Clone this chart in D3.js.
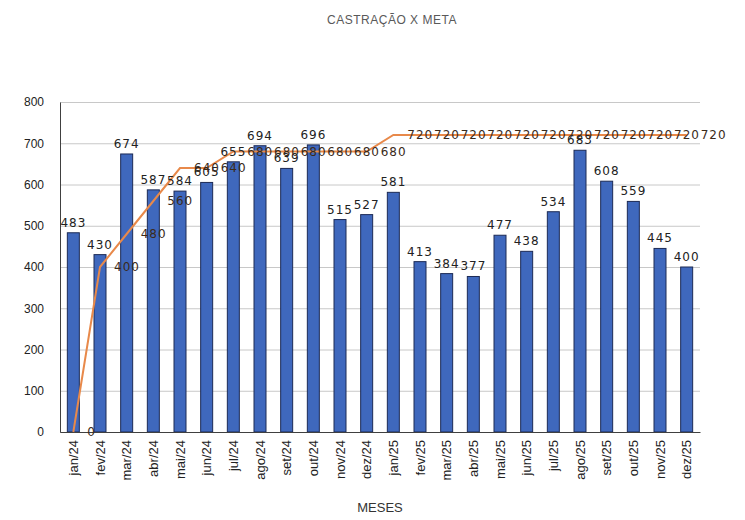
<!DOCTYPE html>
<html>
<head>
<meta charset="utf-8">
<script src="https://cdnjs.cloudflare.com/ajax/libs/d3/7.8.5/d3.min.js"></script>
<style>
  body { margin: 0; background: #fff; }
  svg text { font-family: "Liberation Sans", "DejaVu Sans", sans-serif; }
  svg text.lbl { font-family: "DejaVu Sans", sans-serif; }
</style>
</head>
<body>
<svg id="chart" width="745" height="520"></svg>
<script>
var meses = ["jan/24","fev/24","mar/24","abr/24","mai/24","jun/24","jul/24","ago/24","set/24","out/24","nov/24","dez/24",
             "jan/25","fev/25","mar/25","abr/25","mai/25","jun/25","jul/25","ago/25","set/25","out/25","nov/25","dez/25"];
var castracao = [483,430,674,587,584,605,655,694,639,696,515,527,581,413,384,377,477,438,534,683,608,559,445,400];
var meta = [0,400,480,560,640,640,680,680,680,680,680,680,720,720,720,720,720,720,720,720,720,720,720,720];
var yTicks = [0,100,200,300,400,500,600,700,800];

var svg = d3.select("#chart"),
    margin = {top: 102, right: 45, bottom: 88, left: 60},
    width = +svg.attr("width") - margin.left - margin.right,
    height = +svg.attr("height") - margin.top - margin.bottom;

svg.append("text")
    .attr("x", 392).attr("y", 24)
    .attr("text-anchor", "middle")
    .attr("fill", "#595959")
    .style("font-size", "12px")
    .style("letter-spacing", "0.5px")
    .text("CASTRAÇÃO X META");

var g = svg.append("g")
    .attr("transform", "translate(" + margin.left + "," + margin.top + ")");

var x = d3.scaleBand().domain(meses).range([0, width]).paddingInner(0.55).paddingOuter(0.275);
var xc = function(d) { return x(d) + x.bandwidth() / 2; };
var y = d3.scaleLinear().domain([0, 800]).range([height, 0]);

// grid
g.append("g")
    .attr("class", "grid")
    .call(d3.axisLeft(y).tickValues(yTicks).tickSize(-width).tickFormat(""))
    .call(function(s) {
      s.select(".domain").remove();
      s.selectAll("line").attr("stroke", "#c8c8c8");
    });

// bars
g.selectAll(".bar")
    .data(castracao)
  .enter().append("rect")
    .attr("class", "bar")
    .attr("x", function(d, i) { return x(meses[i]); })
    .attr("y", function(d) { return y(d); })
    .attr("width", x.bandwidth())
    .attr("height", function(d) { return height - y(d); })
    .attr("fill", "#3f68bd")
    .attr("stroke", "#1c2a55")
    .attr("stroke-width", 1);

// axes
g.append("g")
    .attr("class", "y axis")
    .call(d3.axisLeft(y).tickValues(yTicks).tickSize(0).tickPadding(16))
    .call(function(s) {
      s.select(".domain").attr("stroke", "#404040");
      s.selectAll("text").attr("fill", "#222").style("font-size", "12px");
    });

g.append("g")
    .attr("class", "x axis")
    .attr("transform", "translate(0," + height + ")")
    .call(d3.axisBottom(x).tickSize(0).tickPadding(6))
    .call(function(s) {
      s.select(".domain").attr("stroke", "#404040");
      s.selectAll("text")
        .attr("fill", "#222")
        .style("font-size", "13px")
        .attr("transform", "rotate(-90)")
        .attr("text-anchor", "end")
        .attr("x", -8)
        .attr("y", 0)
        .attr("dy", "0.35em");
    });

// meta line
var line = d3.line()
    .x(function(d, i) { return xc(meses[i]); })
    .y(function(d) { return y(d); });

g.append("path")
    .datum(meta)
    .attr("fill", "none")
    .attr("stroke", "#e8894a")
    .attr("stroke-width", 2)
    .attr("d", line);

// bar labels
g.selectAll(".bar-label")
    .data(castracao)
  .enter().append("text")
    .attr("class", "bar-label lbl")
    .attr("x", function(d, i) { return xc(meses[i]); })
    .attr("y", function(d) { return y(d) - 6; })
    .attr("text-anchor", "middle")
    .attr("fill", "#222")
    .style("font-size", "12px")
    .style("letter-spacing", "1px")
    .text(function(d) { return d; });

// meta labels
g.selectAll(".meta-label")
    .data(meta)
  .enter().append("text")
    .attr("class", "meta-label lbl")
    .attr("x", function(d, i) { return xc(meses[i]) + 14; })
    .attr("y", function(d) { return y(d); })
    .attr("dy", "0.35em")
    .attr("fill", "#3a2a1a")
    .style("font-size", "12px")
    .style("letter-spacing", "1px")
    .text(function(d) { return d; });

svg.append("text")
    .attr("x", margin.left + width / 2)
    .attr("y", 512)
    .attr("text-anchor", "middle")
    .attr("fill", "#333")
    .style("font-size", "13px")
    .text("MESES");
</script>
</body>
</html>
